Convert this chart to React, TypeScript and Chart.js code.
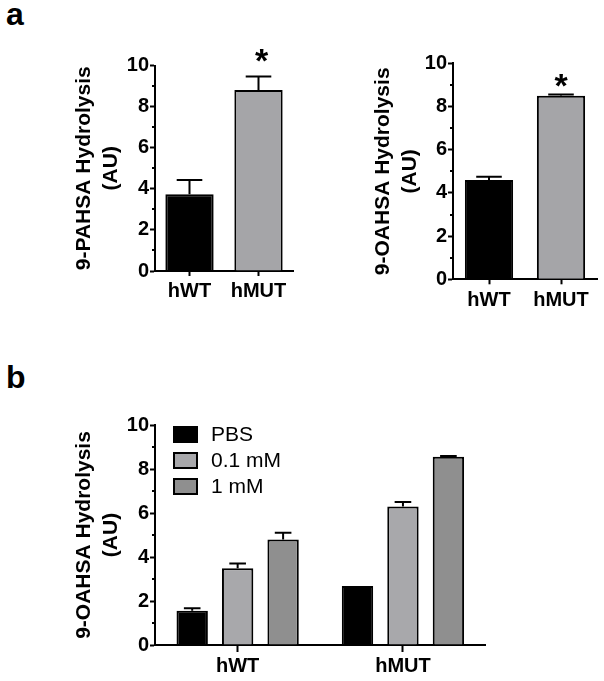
import React, { useEffect, useRef } from 'react';
import { Chart, registerables } from 'chart.js';

Chart.register(...registerables);

const FONT = '"Liberation Sans", Arial, Helvetica, sans-serif';

// ---------- Panel a ----------
const genotypes = ['hWT', 'hMUT'];
const pahsaValues = [3.73, 8.81];
const pahsaErrors = [0.7, 0.65];
const pahsaStars = ['', '*'];
const oahsaValues = [4.6, 8.5];
const oahsaErrors = [0.15, 0.05];
const oahsaStars = ['', '*'];

// ---------- Panel b ----------
const treatments = ['PBS', '0.1 mM', '1 mM'];
const pbsValues = [1.56, 2.68];
const pbsErrors = [0.11, 0];
const lowDoseValues = [3.49, 6.29];
const lowDoseErrors = [0.22, 0.21];
const highDoseValues = [4.8, 8.56];
const highDoseErrors = [0.3, 0.03];

const yMin = 0;
const yMax = 10;
const yStep = 2;

const BLACK = '#000000';
const GRAY_A = '#a5a5a8';
const GRAY_LOW = '#a8a8ab';
const GRAY_HIGH = '#8f8f8f';

const errorBarPlugin = {
  id: 'errorBars',
  afterDatasetsDraw(chart: any, _args: any, opts: any) {
    const ctx = chart.ctx;
    const y = chart.scales.y;
    chart.data.datasets.forEach((ds: any, di: number) => {
      const errs = ds.errors;
      if (!errs) return;
      const meta = chart.getDatasetMeta(di);
      meta.data.forEach((el: any, i: number) => {
        const e = errs[i];
        if (!e) return;
        const v = ds.data[i];
        const top = y.getPixelForValue(v + e);
        const half = (el.width * (opts.capRatio || 0.53)) / 2;
        ctx.save();
        ctx.strokeStyle = '#000';
        ctx.lineWidth = opts.lineWidth || 2;
        ctx.beginPath();
        ctx.moveTo(el.x, el.y);
        ctx.lineTo(el.x, top);
        ctx.moveTo(el.x - half, top);
        ctx.lineTo(el.x + half, top);
        ctx.stroke();
        ctx.restore();
      });
    });
  },
};

const starPlugin = {
  id: 'stars',
  afterDatasetsDraw(chart: any, _args: any, opts: any) {
    if (!opts || !opts.labels) return;
    const ctx = chart.ctx;
    const y = chart.scales.y;
    const ds = chart.data.datasets[0];
    const meta = chart.getDatasetMeta(0);
    ctx.save();
    ctx.font = `bold ${opts.size}px ${FONT}`;
    ctx.fillStyle = '#000';
    ctx.textAlign = 'center';
    ctx.textBaseline = 'alphabetic';
    opts.labels.forEach((s: string, i: number) => {
      if (!s) return;
      const el = meta.data[i];
      const err = ds.errors ? ds.errors[i] || 0 : 0;
      const top = y.getPixelForValue(ds.data[i] + err);
      const cy = top - opts.gap;
      ctx.fillText(s, el.x + (opts.dx || 0), cy + opts.size * 0.57);
    });
    ctx.restore();
  },
};

const minorTickPlugin = {
  id: 'minorTicks',
  afterDraw(chart: any, _args: any, opts: any) {
    const ctx = chart.ctx;
    const y = chart.scales.y;
    const x0 = chart.chartArea.left;
    ctx.save();
    ctx.strokeStyle = '#000';
    ctx.lineWidth = 2;
    ctx.beginPath();
    for (let v = yMin + yStep / 2; v < yMax; v += yStep) {
      const p = Math.round(y.getPixelForValue(v));
      ctx.moveTo(x0 - (opts.length || 3), p);
      ctx.lineTo(x0, p);
    }
    ctx.stroke();
    ctx.restore();
  },
};

const insideLegendPlugin = {
  id: 'insideLegend',
  afterDraw(chart: any, _args: any, opts: any) {
    if (!opts || !opts.show) return;
    const ctx = chart.ctx;
    const area = chart.chartArea;
    ctx.save();
    ctx.font = `${opts.fontSize}px ${FONT}`;
    ctx.textBaseline = 'middle';
    ctx.textAlign = 'left';
    chart.data.datasets.forEach((ds: any, i: number) => {
      const bx = area.left + opts.offsetX;
      const by = area.top + opts.offsetY + i * opts.rowGap;
      ctx.fillStyle = ds.backgroundColor;
      ctx.fillRect(bx, by, opts.boxW, opts.boxH);
      ctx.strokeStyle = '#000';
      ctx.lineWidth = 2;
      ctx.strokeRect(bx + 1, by + 1, opts.boxW - 2, opts.boxH - 2);
      ctx.fillStyle = '#000';
      ctx.fillText(ds.label, bx + opts.textGap, by + opts.boxH / 2 + 1);
    });
    ctx.restore();
  },
};

type Layout = {
  padTop: number;
  padRight: number;
  yWidth: number;
  xHeight: number;
  titlePad: number;
  xTickLength: number;
  xTickPad: number;
};

function buildOptions(title: string[], lay: Layout, pluginOpts: any) {
  return {
    responsive: false,
    animation: false,
    devicePixelRatio: 1,
    layout: { padding: { top: lay.padTop, right: lay.padRight, left: 0, bottom: 0 } },
    plugins: {
      legend: { display: false },
      tooltip: { enabled: false },
      ...pluginOpts,
    },
    scales: {
      x: {
        type: 'category',
        offset: true,
        grid: {
          display: true,
          drawOnChartArea: false,
          drawTicks: true,
          offset: false,
          tickLength: lay.xTickLength,
          tickWidth: 2,
          tickColor: '#000',
        },
        border: { display: true, color: '#000', width: 2 },
        ticks: {
          color: '#000',
          padding: lay.xTickPad,
          maxRotation: 0,
          font: { family: FONT, size: 20, weight: 'bold' },
        },
        afterFit(scale: any) {
          scale.height = lay.xHeight;
        },
      },
      y: {
        min: yMin,
        max: yMax,
        grid: {
          display: true,
          drawOnChartArea: false,
          drawTicks: true,
          tickLength: 5,
          tickWidth: 2,
          tickColor: '#000',
        },
        border: { display: true, color: '#000', width: 2 },
        ticks: {
          stepSize: yStep,
          color: '#000',
          padding: 1,
          font: { family: FONT, size: 20, weight: 'bold' },
        },
        title: {
          display: true,
          text: title,
          color: '#000',
          padding: { top: lay.titlePad, bottom: 0 },
          font: { family: FONT, size: 21, weight: 'bold', lineHeight: 1.3 },
        },
        afterFit(scale: any) {
          scale.width = lay.yWidth;
        },
      },
    },
  };
}

function useChart(ref: React.RefObject<HTMLCanvasElement>, makeConfig: () => any) {
  useEffect(() => {
    if (!ref.current) return;
    const chart = new Chart(ref.current, makeConfig());
    return () => chart.destroy();
  }, []);
}

const barDefaults = { borderColor: BLACK, borderWidth: 2, borderSkipped: 'bottom' };

export default function App() {
  const aLeft = useRef<HTMLCanvasElement>(null);
  const aRight = useRef<HTMLCanvasElement>(null);
  const bRef = useRef<HTMLCanvasElement>(null);

  useChart(aLeft, () => ({
    type: 'bar',
    data: {
      labels: genotypes,
      datasets: [
        {
          label: '9-PAHSA',
          data: pahsaValues,
          errors: pahsaErrors,
          backgroundColor: [BLACK, GRAY_A],
          ...barDefaults,
          categoryPercentage: 1,
          barPercentage: 0.7,
        },
      ],
    },
    options: buildOptions(
      ['9-PAHSA Hydrolysis', '(AU)'],
      { padTop: 65.5, padRight: 7, yWidth: 155, xHeight: 39, titlePad: 70.4, xTickLength: 5, xTickPad: 3 },
      { errorBars: { capRatio: 0.53, lineWidth: 2 }, stars: { labels: pahsaStars, size: 34, gap: 24, dx: 3 } }
    ),
    plugins: [errorBarPlugin, starPlugin, minorTickPlugin],
  }));

  useChart(aRight, () => ({
    type: 'bar',
    data: {
      labels: genotypes,
      datasets: [
        {
          label: '9-OAHSA',
          data: oahsaValues,
          errors: oahsaErrors,
          backgroundColor: [BLACK, GRAY_A],
          ...barDefaults,
          categoryPercentage: 1,
          barPercentage: 0.67,
        },
      ],
    },
    options: buildOptions(
      ['9-OAHSA Hydrolysis', '(AU)'],
      { padTop: 63.3, padRight: 7, yWidth: 153, xHeight: 30.7, titlePad: 69.2, xTickLength: 5, xTickPad: 4 },
      { errorBars: { capRatio: 0.53, lineWidth: 2 }, stars: { labels: oahsaStars, size: 34, gap: 17, dx: 0 } }
    ),
    plugins: [errorBarPlugin, starPlugin, minorTickPlugin],
  }));

  useChart(bRef, () => ({
    type: 'bar',
    data: {
      labels: genotypes,
      datasets: [
        { label: treatments[0], data: pbsValues, errors: pbsErrors, backgroundColor: BLACK, ...barDefaults },
        { label: treatments[1], data: lowDoseValues, errors: lowDoseErrors, backgroundColor: GRAY_LOW, ...barDefaults },
        { label: treatments[2], data: highDoseValues, errors: highDoseErrors, backgroundColor: GRAY_HIGH, ...barDefaults },
      ].map((d) => ({ ...d, categoryPercentage: 0.825, barPercentage: 0.69 })),
    },
    options: buildOptions(
      ['9-OAHSA Hydrolysis', '(AU)'],
      { padTop: 85, padRight: 118.4, yWidth: 155, xHeight: 36, titlePad: 70.5, xTickLength: 7, xTickPad: 2 },
      {
        errorBars: { capRatio: 0.53, lineWidth: 2 },
        insideLegend: { show: true, offsetX: 18, offsetY: 1, rowGap: 26, boxW: 25, boxH: 17, textGap: 38, fontSize: 21 },
      }
    ),
    plugins: [errorBarPlugin, minorTickPlugin, insideLegendPlugin],
  }));

  const panelLetter: React.CSSProperties = {
    position: 'absolute',
    left: 6,
    fontFamily: FONT,
    fontWeight: 'bold',
    fontSize: 32,
    lineHeight: '32px',
    color: '#000',
    margin: 0,
  };

  return (
    <div style={{ position: 'absolute', left: 0, top: 0, width: 604, height: 681, background: '#fff', overflow: 'hidden' }}>
      <div style={{ ...panelLetter, top: -2 }}>a</div>
      <div style={{ ...panelLetter, top: 361 }}>b</div>
      <canvas ref={aLeft} width={300} height={310} style={{ position: 'absolute', left: 0, top: 0, display: 'block' }} />
      <canvas ref={aRight} width={304} height={310} style={{ position: 'absolute', left: 300, top: 0, display: 'block' }} />
      <canvas ref={bRef} width={604} height={341} style={{ position: 'absolute', left: 0, top: 340, display: 'block' }} />
    </div>
  );
}
